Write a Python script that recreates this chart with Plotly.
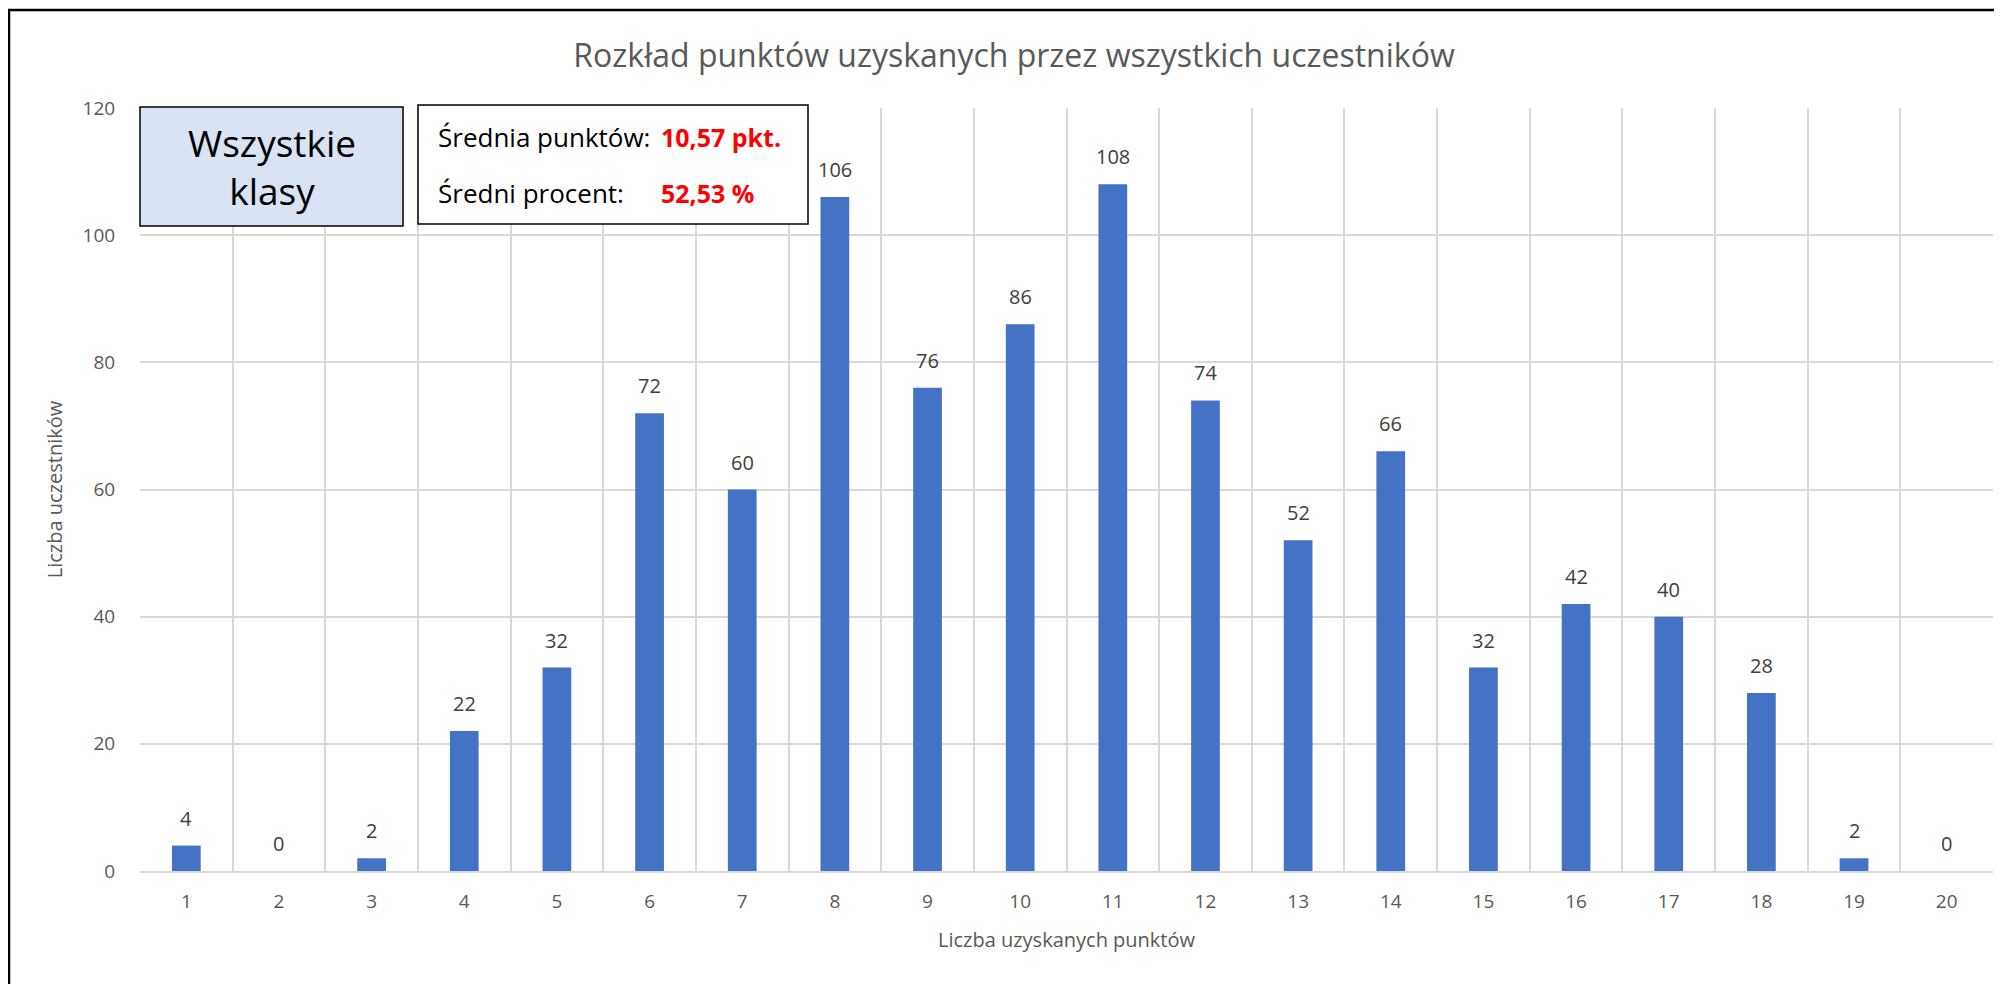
import plotly.graph_objects as go

categories = list(range(1, 21))
counts = [4, 0, 2, 22, 32, 72, 60, 106, 76, 86, 108, 74, 52, 66, 32, 42, 40, 28, 2, 0]
y_ticks = [0, 20, 40, 60, 80, 100, 120]

title_text = "Rozkład punktów uzyskanych przez wszystkich uczestników"
x_title = "Liczba uzyskanych punktów"
y_title = "Liczba uczestników"
group_label = "Wszystkie<br>klasy"
stat_labels = ["Średnia punktów:", "Średni procent:"]
stat_values = ["10,57 pkt.", "52,53 %"]

# page has an 8px body margin; lay out in page pixels and convert
OFF = 8
W, H = 2002 - OFF, 984 - OFF
L, R, T, B = 140 - OFF, 1993 - OFF, 108 - OFF, 871 - OFF
pw, ph = R - L, B - T

def px(x):
    return (x - OFF - L) / pw

def py(y):
    return (B - (y - OFF)) / ph

FONT = "Open Sans"
GREY = "#595959"

boundaries = [c - 0.5 for c in categories] + [categories[-1] + 0.5]

fig = go.Figure()
fig.add_trace(go.Bar(
    x=categories, y=counts,
    marker=dict(color="#4472C4", line=dict(width=0)),
    hoverinfo="x+y",
))

annotations = []
for c, v in zip(categories, counts):
    annotations.append(dict(
        x=c, y=v, xref="x", yref="y", text=str(v), showarrow=False,
        yanchor="bottom", yshift=12,
        font=dict(family=FONT, size=20, color="#404040"),
    ))

annotations.append(dict(
    x=px((140 + 403) / 2), y=py((107 + 226) / 2), xref="paper", yref="paper",
    text=group_label, showarrow=False, xanchor="center", yanchor="middle",
    font=dict(family=FONT, size=37, color="#000000"),
))
for i, (lab, val) in enumerate(zip(stat_labels, stat_values)):
    ycen = [137, 193][i]
    annotations.append(dict(
        x=px(436), y=py(ycen), xref="paper", yref="paper", text=lab,
        showarrow=False, xanchor="left", yanchor="middle",
        font=dict(family=FONT, size=26, color="#000000"),
    ))
    annotations.append(dict(
        x=px(659), y=py(ycen), xref="paper", yref="paper", text="<b>" + val + "</b>",
        showarrow=False, xanchor="left", yanchor="middle",
        font=dict(family=FONT, size=25, color="#FF0000"),
    ))

shapes = [
    dict(type="rect", xref="paper", yref="paper",
         x0=px(9), x1=px(2100), y0=py(1100), y1=py(10),
         line=dict(color="#000000", width=2.5), fillcolor="rgba(0,0,0,0)", layer="above"),
    dict(type="rect", xref="paper", yref="paper",
         x0=px(140), x1=px(403), y0=py(226), y1=py(107),
         line=dict(color="#000000", width=1.5), fillcolor="#DAE3F3", layer="above"),
    dict(type="rect", xref="paper", yref="paper",
         x0=px(418), x1=px(808), y0=py(224), y1=py(105),
         line=dict(color="#000000", width=1.5), fillcolor="#FFFFFF", layer="above"),
]

fig.update_layout(
    width=W, height=H,
    margin=dict(l=L, r=W - R, t=T, b=H - B, pad=0, autoexpand=False),
    paper_bgcolor="white", plot_bgcolor="white",
    bargap=0.69,
    showlegend=False,
    title=dict(text=title_text, x=(1014 - OFF) / W, xanchor="center",
               y=1 - (56 - OFF) / H, yanchor="middle",
               xref="container", yref="container",
               font=dict(family=FONT, size=32, color=GREY)),
    annotations=annotations,
    shapes=shapes,
    font=dict(family=FONT, color=GREY),
)

fig.update_xaxes(
    range=[boundaries[0], boundaries[-1]],
    tickmode="array", tickvals=categories, ticktext=[str(c) for c in categories],
    showgrid=False,
    minor=dict(tickmode="array", tickvals=boundaries, showgrid=True,
               gridcolor="#D9D9D9", gridwidth=1.5, ticks=""),
    showline=True, linecolor="#D9D9D9", linewidth=2,
    ticks="", ticklabelstandoff=12,
    tickfont=dict(family=FONT, size=19, color=GREY),
    title=dict(text=x_title, font=dict(family=FONT, size=20, color=GREY), standoff=20),
    zeroline=False, automargin=False,
)
fig.update_yaxes(
    range=[0, 120], tickmode="array", tickvals=y_ticks,
    showgrid=True, gridcolor="#D9D9D9", gridwidth=1.5,
    showline=False, zeroline=False,
    ticks="outside", ticklen=20, tickcolor="rgba(0,0,0,0)",
    tickfont=dict(family=FONT, size=19, color=GREY),
    title=dict(text=y_title, font=dict(family=FONT, size=20, color=GREY), standoff=14),
    automargin=False,
)

fig.write_html("out.html")
